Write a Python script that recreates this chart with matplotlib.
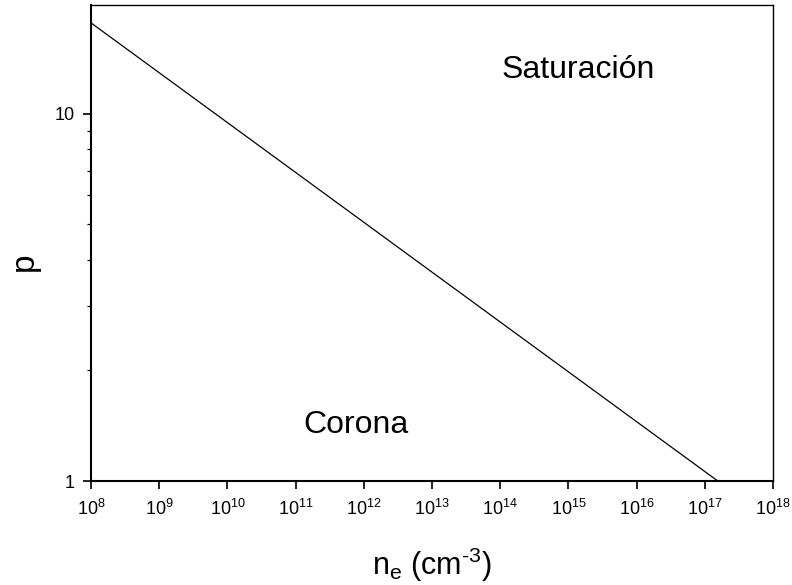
import numpy as np
import matplotlib.pyplot as plt
from matplotlib.ticker import LogLocator, NullFormatter, FixedLocator

plt.rcParams['font.family'] = ['Liberation Sans', 'DejaVu Sans']
plt.rcParams['mathtext.fontset'] = 'custom'
plt.rcParams['mathtext.rm'] = 'Liberation Sans'
plt.rcParams['mathtext.it'] = 'Liberation Sans'
plt.rcParams['axes.unicode_minus'] = False

# datos de la recta (densidad electrónica vs p)
ne = [1e8, 1.55e17]
p = [17.7, 1.0]
x_ticks = [10.0 ** k for k in range(8, 19)]
x_labels = ['$10^{%d}$' % k for k in range(8, 19)]

W, H = 792, 585
fig = plt.figure(figsize=(W / 100, H / 100), dpi=100)
ax = fig.add_axes([91 / W, 1 - 481 / H, (773 - 91) / W, (481 - 5) / H])

ax.plot(ne, p, color='black', linewidth=0.9)
ax.set_xscale('log')
ax.set_yscale('log')
ax.set_xlim(1e8, 1e18)
ax.set_ylim(1, 19.8)

ax.xaxis.set_major_locator(FixedLocator(x_ticks))
ax.set_xticklabels(x_labels, fontsize=13)
ax.xaxis.set_minor_locator(FixedLocator([]))
ax.yaxis.set_major_locator(FixedLocator([1, 10]))
ax.set_yticklabels(['1', '10'], fontsize=13)
ax.yaxis.set_minor_locator(LogLocator(base=10, subs=np.arange(2, 10)))
ax.yaxis.set_minor_formatter(NullFormatter())
ax.tick_params(axis='both', which='major', direction='out', length=6, width=1.2)
ax.tick_params(axis='y', which='minor', direction='out', length=3, width=0.9)
ax.tick_params(axis='x', pad=7)
ax.tick_params(axis='y', pad=6)
for s in ['left', 'bottom']:
    ax.spines[s].set_linewidth(1.5)
for s in ['top', 'right']:
    ax.spines[s].set_linewidth(1.0)

fig.text(578 / W, 1 - 70 / H, 'Saturación', fontsize=23, ha='center', va='center')
fig.text(356 / W, 1 - 425 / H, 'Corona', fontsize=23, ha='center', va='center')

ax.set_xlabel('n$_\\mathregular{e}$ (cm$^{\\text{-3}}$)', fontsize=22)
ax.xaxis.set_label_coords(0.5, -0.135)
ax.set_ylabel('p', fontsize=24)
ax.yaxis.set_label_coords(-0.075, 0.46)

fig.savefig('out.png', dpi=100)
